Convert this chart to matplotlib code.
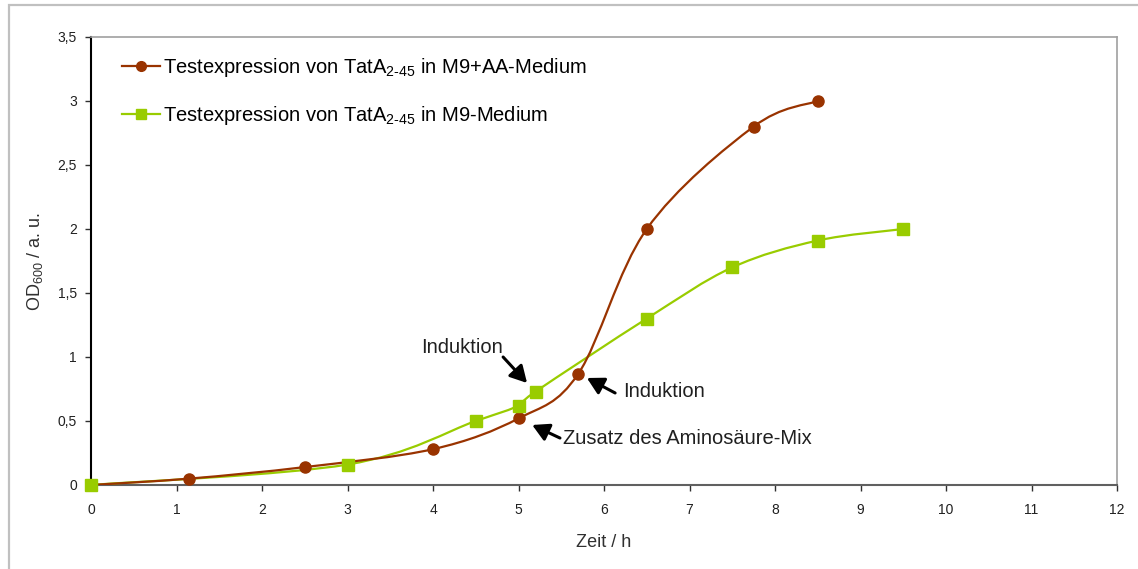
import numpy as np
import matplotlib
matplotlib.use('Agg')
from matplotlib import pyplot as plt
from matplotlib.path import Path
from matplotlib.patches import PathPatch, Rectangle
from matplotlib.lines import Line2D

plt.rcParams['font.family'] = ['Liberation Sans', 'DejaVu Sans']
plt.rcParams['mathtext.fontset'] = 'custom'
plt.rcParams['mathtext.rm'] = 'Liberation Sans'
plt.rcParams['mathtext.default'] = 'regular'

# Daten
zeit_aa   = [0, 1.15, 2.5, 4.0, 5.0, 5.7, 6.5, 7.75, 8.5]
od_aa     = [0, 0.05, 0.14, 0.28, 0.52, 0.87, 2.0, 2.8, 3.0]
zeit_m9   = [0, 3.0, 4.5, 5.0, 5.2, 6.5, 7.5, 8.5, 9.5]
od_m9     = [0, 0.16, 0.5, 0.62, 0.73, 1.3, 1.7, 1.91, 2.0]

label_aa  = r'Testexpression von TatA$_{2\text{-}45}$ in M9+AA-Medium'
label_m9  = r'Testexpression von TatA$_{2\text{-}45}$ in M9-Medium'
y_ticks   = [0, 0.5, 1, 1.5, 2, 2.5, 3, 3.5]
y_labels  = ['0', '0,5', '1', '1,5', '2', '2,5', '3', '3,5']

col_aa = '#993300'
col_m9 = '#99CC00'
txt_size = 14.5


def smooth_path(x, y):
    # Excel-artige Glaettung: Bezier mit Catmull-Rom Kontrollpunkten
    p = np.column_stack([x, y]).astype(float)
    pp = np.vstack([p[0], p, p[-1]])
    verts = [p[0]]
    codes = [Path.MOVETO]
    for i in range(1, len(pp) - 2):
        c1 = pp[i] + (pp[i + 1] - pp[i - 1]) / 6.0
        c2 = pp[i + 1] - (pp[i + 2] - pp[i]) / 6.0
        verts += [c1, c2, pp[i + 1]]
        codes += [Path.CURVE4] * 3
    return Path(verts, codes)


fig = plt.figure(figsize=(11.38, 5.69), dpi=100)
ax = fig.add_axes([91 / 1138, 1 - 485 / 569, 1026 / 1138, 448 / 569])

# aeusserer Rahmen
fig.patches.append(Rectangle((9 / 1138, -0.1), 1.2, 1 - 5 / 569 + 0.1,
                             transform=fig.transFigure, fill=False,
                             edgecolor='#c0c0c0', lw=1.6))

ax.add_patch(PathPatch(smooth_path(zeit_m9, od_m9), fill=False, edgecolor=col_m9, lw=1.6, zorder=3))
ax.add_patch(PathPatch(smooth_path(zeit_aa, od_aa), fill=False, edgecolor=col_aa, lw=1.6, zorder=4))
ax.plot(zeit_aa, od_aa, 'o', color=col_aa, markersize=8, zorder=5, clip_on=False)
ax.plot(zeit_m9, od_m9, 's', color=col_m9, markersize=9, zorder=6, clip_on=False)

ax.set_xlim(0, 12)
ax.set_ylim(0, 3.5)
ax.set_xticks(range(0, 13))
ax.set_yticks(y_ticks)
ax.set_yticklabels(y_labels)
ax.tick_params(labelsize=10, length=4, width=1, color='#303030', labelcolor='#202020')
ax.tick_params(axis='y', pad=6)
ax.tick_params(axis='x', pad=9)

ax.spines['left'].set_color('black')
ax.spines['left'].set_linewidth(1.5)
ax.spines['bottom'].set_color('#606060')
ax.spines['bottom'].set_linewidth(1.5)
ax.spines['top'].set_color('#a0a0a0')
ax.spines['right'].set_color('#a0a0a0')
ax.spines['top'].set_linewidth(1.2)
ax.spines['right'].set_linewidth(1.2)

ax.set_xlabel('Zeit / h', fontsize=13, color='#303030', labelpad=12)
ax.set_ylabel(r'OD$_{600}$ / a. u.', fontsize=13, color='#303030', labelpad=9)

handles = [
    Line2D([], [], color=col_aa, lw=1.6, marker='o', markersize=7),
    Line2D([], [], color=col_m9, lw=1.6, marker='s', markersize=7),
]
ax.legend(handles, [label_aa, label_m9], loc='upper left', bbox_to_anchor=(0.03, 0.958),
          frameon=False, fontsize=txt_size, borderpad=0, borderaxespad=0,
          handlelength=1.9, handletextpad=0.15, labelspacing=1.27)

arrow = dict(arrowstyle='-|>,head_length=1.0,head_width=0.55', lw=2.2, color='black',
             shrinkA=0, shrinkB=0)
ax.annotate('', xy=(5.10, 0.797), xytext=(4.82, 1.0), arrowprops=arrow)
ax.text(4.34, 1.078, 'Induktion', fontsize=txt_size, ha='center', va='center', color='#202020')
ax.annotate('', xy=(5.80, 0.836), xytext=(6.13, 0.719), arrowprops=arrow)
ax.text(6.22, 0.734, 'Induktion', fontsize=txt_size, ha='left', va='center', color='#202020')
ax.annotate('', xy=(5.16, 0.469), xytext=(5.485, 0.367), arrowprops=arrow)
ax.text(5.52, 0.367, 'Zusatz des Aminosäure-Mix', fontsize=txt_size, ha='left', va='center', color='#202020')

fig.savefig('out.png', dpi=100, facecolor='white')
